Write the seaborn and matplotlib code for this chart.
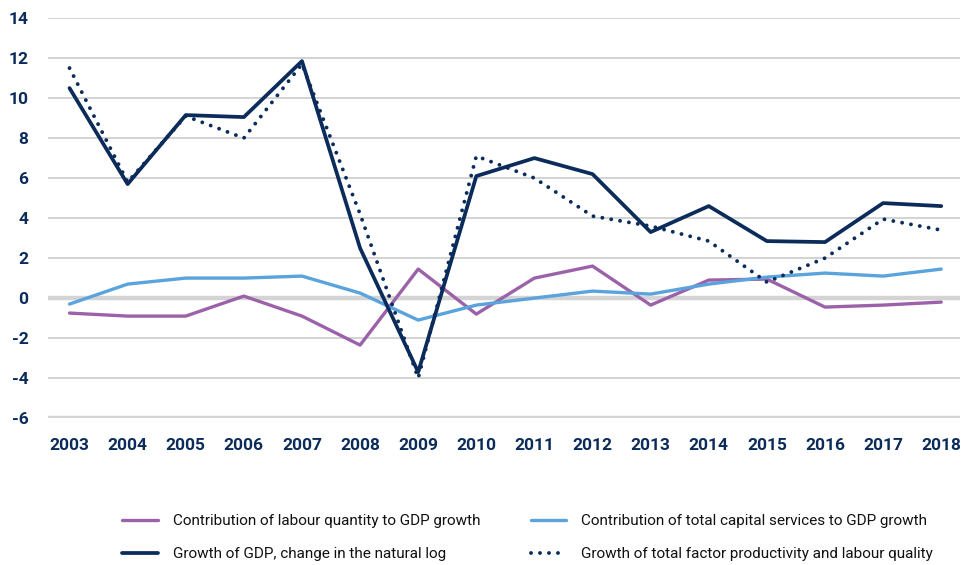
import matplotlib
matplotlib.use("Agg")
import matplotlib.pyplot as plt
import seaborn as sns
import pandas as pd

years = [2003, 2004, 2005, 2006, 2007, 2008, 2009, 2010, 2011, 2012, 2013, 2014, 2015, 2016, 2017, 2018]
labour = [-0.75, -0.9, -0.9, 0.1, -0.9, -2.35, 1.45, -0.8, 1.0, 1.6, -0.35, 0.9, 0.95, -0.45, -0.35, -0.2]
capital = [-0.3, 0.7, 1.0, 1.0, 1.1, 0.25, -1.1, -0.35, 0.0, 0.35, 0.2, 0.7, 1.05, 1.25, 1.1, 1.45]
gdp = [10.5, 5.7, 9.15, 9.05, 11.85, 2.5, -3.7, 6.1, 7.0, 6.2, 3.3, 4.6, 2.85, 2.8, 4.75, 4.6]
tfp = [11.5, 5.8, 9.1, 8.0, 11.7, 4.2, -4.0, 7.1, 6.0, 4.1, 3.6, 2.85, 0.8, 2.0, 3.95, 3.4]
names = ["Contribution of labour quantity to GDP growth",
         "Contribution of total capital services to GDP growth",
         "Growth of GDP, change in the natural log",
         "Growth of total factor productivity and labour quality"]
yticks = [-6, -4, -2, 0, 2, 4, 6, 8, 10, 12, 14]

sns.set_theme(style="white")
plt.rcParams['font.family'] = ['Roboto', 'DejaVu Sans']

navy = "#0b2c5a"
purple = "#9b62a9"
lblue = "#5aa3dc"

fig = plt.figure(figsize=(9.7, 5.65), dpi=100)
ax = fig.add_axes([0.0495, 0.26, 0.94, 0.708])

for v in yticks:
    if v in (0, -6):
        ax.axhline(v, color="#d4d4d4", lw=3.2, zorder=1)
    else:
        ax.axhline(v, color="#d0d0d0", lw=1.3, zorder=1)

df = pd.DataFrame({"year": years, "labour": labour, "capital": capital, "gdp": gdp, "tfp": tfp})
sns.lineplot(data=df, x="year", y="labour", ax=ax, color=purple, lw=2.4, label=names[0], zorder=3)
sns.lineplot(data=df, x="year", y="capital", ax=ax, color=lblue, lw=2.4, label=names[1], zorder=3)
sns.lineplot(data=df, x="year", y="gdp", ax=ax, color=navy, lw=2.7, label=names[2], zorder=4)
sns.lineplot(data=df, x="year", y="tfp", ax=ax, color=navy, lw=2.8, label=names[3], zorder=4,
             linestyle=(0, (0.01, 2.3)), dash_capstyle="round")

ax.set_xlim(2002.63, 2018.32)
ax.set_ylim(-6, 14)
ax.set_xticks(years)
ax.set_xticklabels([str(y) for y in years])
ax.set_yticks(yticks)
ax.set_yticklabels([str(v) for v in yticks])
ax.set_xlabel("")
ax.set_ylabel("")
for s in ax.spines.values():
    s.set_visible(False)
ax.tick_params(axis="both", length=0, labelsize=12.5, labelcolor=navy)
ax.tick_params(axis="x", pad=14)
ax.tick_params(axis="y", pad=14)
for lab in ax.get_xticklabels() + ax.get_yticklabels():
    lab.set_fontweight("bold")

handles, labels = ax.get_legend_handles_labels()
ax.get_legend().remove()
order = [0, 2, 1, 3]
fig.legend([handles[i] for i in order], [labels[i] for i in order],
           loc="upper left", bbox_to_anchor=(0.112, 0.114), ncol=2,
           frameon=False, handlelength=2.3, handletextpad=1.0, columnspacing=3.3,
           labelspacing=1.25, prop={"family": ["Roboto", "DejaVu Sans"], "size": 11},
           labelcolor="#111111")

fig.savefig("out.png", dpi=100)
